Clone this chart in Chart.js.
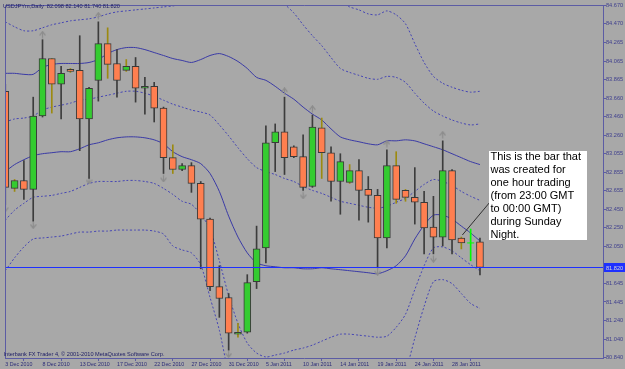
<!DOCTYPE html>
<html>
<head>
<meta charset="utf-8">
<script src="https://cdn.jsdelivr.net/npm/chart.js@4.4.0/dist/chart.umd.min.js"></script>
<style>
  html, body { margin: 0; padding: 0; background: #a8a8a8; }
</style>
</head>
<body>
<canvas id="chart" width="625" height="369"></canvas>
<script>
// ---------- DATA ----------
const symbol = 'USDJPYm,Daily';
const copyright = 'Interbank FX Trader 4, \u00a9 2001-2010 MetaQuotes Software Corp.';

const barDates = [
  '3 Dec 2010', '5 Dec 2010', '6 Dec 2010', '7 Dec 2010', '8 Dec 2010', '9 Dec 2010', '10 Dec 2010',
  '12 Dec 2010', '13 Dec 2010', '14 Dec 2010', '15 Dec 2010', '16 Dec 2010', '17 Dec 2010',
  '19 Dec 2010', '20 Dec 2010', '21 Dec 2010', '22 Dec 2010', '23 Dec 2010', '24 Dec 2010',
  '26 Dec 2010', '27 Dec 2010', '28 Dec 2010', '29 Dec 2010', '30 Dec 2010', '31 Dec 2010',
  '2 Jan 2011', '3 Jan 2011', '4 Jan 2011', '5 Jan 2011', '6 Jan 2011', '7 Jan 2011',
  '9 Jan 2011', '10 Jan 2011', '11 Jan 2011', '12 Jan 2011', '13 Jan 2011', '14 Jan 2011',
  '16 Jan 2011', '17 Jan 2011', '18 Jan 2011', '19 Jan 2011', '20 Jan 2011', '21 Jan 2011',
  '23 Jan 2011', '24 Jan 2011', '25 Jan 2011', '26 Jan 2011', '27 Jan 2011', '28 Jan 2011',
  '30 Jan 2011', '31 Jan 2011', '1 Feb 2011'
];
const dateTickBars = [0, 4, 8, 12, 16, 20, 24, 28, 32, 36, 40, 44, 48];

const opens = [
  83.736, 82.680, 82.766, 82.669, 83.467, 84.092, 83.812, 83.974, 83.963, 83.435,
  83.855, 84.254, 84.038, 83.963, 84.006, 83.769, 83.790, 83.553, 83.014, 82.885,
  82.928, 82.734, 82.346, 81.612, 81.494, 81.095, 81.116, 81.666, 82.033, 83.176,
  83.294, 83.133, 83.025, 82.701, 83.338, 83.068, 82.755, 82.745, 82.874, 82.669,
  82.604, 82.141, 82.928, 82.658, 82.583, 82.529, 82.259, 82.151, 82.874, 82.141,
  82.087, 82.098
];
const highs = [
  83.812, 82.777, 82.982, 83.672, 84.297, 84.092, 84.006, 83.984, 84.340, 83.780,
  84.491, 84.426, 84.189, 84.081, 84.103, 83.887, 83.833, 83.564, 83.154, 82.949,
  82.960, 82.755, 82.356, 81.839, 81.537, 81.213, 81.742, 82.270, 83.359, 83.381,
  83.672, 83.143, 83.262, 83.478, 83.445, 83.133, 83.057, 82.939, 82.992, 82.809,
  82.669, 83.100, 83.079, 82.669, 82.906, 82.647, 82.594, 83.197, 82.885, 82.151,
  82.238, 82.140
];
const lows = [
  82.507, 82.647, 82.561, 82.324, 83.456, 83.499, 83.435, 83.941, 83.090, 82.788,
  83.629, 83.877, 83.672, 83.952, 83.618, 83.488, 83.402, 82.842, 82.842, 82.874,
  82.637, 81.806, 81.569, 81.278, 80.922, 81.062, 81.106, 81.591, 81.871, 82.863,
  82.831, 83.014, 82.658, 82.691, 82.788, 82.540, 82.399, 82.734, 82.335, 82.313,
  81.817, 82.033, 82.518, 82.540, 82.292, 81.968, 81.968, 82.054, 81.968, 82.022,
  81.893, 81.740
];
const closes = [
  82.691, 82.766, 82.669, 83.467, 84.092, 83.812, 83.931, 83.952, 83.435, 83.769,
  84.254, 84.028, 83.855, 84.006, 83.769, 83.790, 83.553, 83.014, 82.885, 82.928,
  82.734, 82.346, 81.612, 81.483, 81.106, 81.116, 81.656, 82.022, 83.176, 83.294,
  83.014, 83.025, 82.691, 83.348, 83.068, 82.755, 82.971, 82.874, 82.658, 82.604,
  82.141, 82.928, 82.561, 82.583, 82.529, 82.249, 82.151, 82.874, 82.119, 82.087,
  82.087, 81.820
];

// bollinger style bands: middle, +-1, +-2, +-3
const bandMid = [
  83.402, 83.435, 83.445, 83.467, 83.532, 83.564, 83.585, 83.607, 83.639, 83.650,
  83.672, 83.693, 83.715, 83.736, 83.736, 83.715, 83.682, 83.639, 83.596, 83.564,
  83.532, 83.510, 83.478, 83.370, 83.251, 83.122, 83.003, 82.906, 82.863, 82.831,
  82.788, 82.755, 82.701, 82.658, 82.626, 82.583, 82.540, 82.518, 82.496, 82.475,
  82.464, 82.486, 82.529, 82.572, 82.647, 82.723, 82.777, 82.755, 82.712, 82.647,
  82.594, 82.550
];
const bandUp1 = [
  83.931, 83.931, 83.920, 83.920, 83.995, 84.028, 84.038, 84.038, 84.038, 84.049,
  84.081, 84.146, 84.189, 84.211, 84.211, 84.189, 84.157, 84.125, 84.092, 84.071,
  84.049, 84.081, 84.125, 84.146, 84.114, 84.060, 83.984, 83.887, 83.855, 83.790,
  83.715, 83.650, 83.564, 83.488, 83.424, 83.327, 83.240, 83.208, 83.187, 83.165,
  83.154, 83.197, 83.197, 83.208, 83.197, 83.165, 83.133, 83.100, 83.057, 83.014,
  82.971, 82.939
];
const bandLow1 = [
  82.863, 82.939, 82.992, 83.036, 83.057, 83.068, 83.079, 83.079, 83.111, 83.154,
  83.176, 83.208, 83.230, 83.240, 83.240, 83.230, 83.208, 83.165, 83.079, 83.025,
  82.992, 82.949, 82.842, 82.647, 82.378, 82.151, 81.979, 81.871, 81.839, 81.828,
  81.817, 81.817, 81.806, 81.806, 81.817, 81.806, 81.796, 81.785, 81.774, 81.763,
  81.752, 81.785, 81.839, 81.947, 82.130, 82.281, 82.389, 82.389, 82.346, 82.270,
  82.195, 82.108
];
const bandUp2 = [
  84.491, 84.437, 84.394, 84.394, 84.426, 84.459, 84.480, 84.502, 84.513, 84.524,
  84.545, 84.577, 84.599, 84.610, 84.621, 84.631, 84.642, 84.653, 84.664, 84.674,
  84.674, 84.685, 84.739, 84.869, 84.987, 85.030, 85.009, 84.922, 84.879, 84.793,
  84.685, 84.588, 84.459, 84.340, 84.232, 84.103, 83.984, 83.941, 83.909, 83.877,
  83.866, 83.898, 83.887, 83.833, 83.715, 83.607, 83.521, 83.467, 83.424, 83.391,
  83.370, 83.381
];
const bandLow2 = [
  82.335, 82.443, 82.518, 82.583, 82.594, 82.604, 82.626, 82.647, 82.691, 82.734,
  82.755, 82.755, 82.755, 82.766, 82.766, 82.755, 82.734, 82.680, 82.615, 82.540,
  82.507, 82.399, 82.238, 81.893, 81.515, 81.213, 80.998, 80.890, 80.847, 80.868,
  80.890, 80.922, 80.944, 80.976, 81.019, 81.062, 81.095, 81.095, 81.084, 81.073,
  81.062, 81.073, 81.170, 81.311, 81.580, 81.839, 82.033, 82.044, 82.001, 81.925,
  81.850, 81.785
];
const bandUp3 = [
  84.998, 84.922, 84.836, 84.793, 84.933, 84.998, 85.020, 85.041, 85.030, 84.987,
  85.030, 85.095, 85.149, 85.192, 85.192, 85.149, 85.106, 85.073, 85.117, 85.127,
  85.117, 85.203, 85.397, 85.613, 85.850, 85.979, 86.011, 85.925, 85.882, 85.774,
  85.634, 85.505, 85.332, 85.181, 85.030, 84.858, 84.707, 84.653, 84.621, 84.577,
  84.567, 84.610, 84.567, 84.470, 84.254, 84.049, 83.898, 83.823, 83.780, 83.747,
  83.726, 83.736
];
const bandLow3 = [
  81.785, 81.925, 82.044, 82.130, 82.141, 82.151, 82.162, 82.184, 82.205, 82.205,
  82.216, 82.216, 82.227, 82.227, 82.227, 82.227, 82.216, 82.184, 82.054, 82.011,
  81.979, 81.850, 81.494, 81.138, 80.653, 80.265, 79.995, 79.887, 79.844, 79.887,
  79.941, 80.006, 80.071, 80.135, 80.222, 80.308, 80.372, 80.383, 80.383, 80.372,
  80.362, 80.372, 80.491, 80.685, 81.052, 81.397, 81.666, 81.688, 81.645, 81.537,
  81.429, 81.375
];

// fractal arrows
const fractalUpBars = [4, 10, 30, 33, 41, 47];
const fractalUpPrices = [84.351, 84.556, 83.736, 83.542, 83.165, 83.262];
const fractalDownBars = [0, 3, 9, 17, 24, 32, 40, 46];
const fractalDownPrices = [82.464, 82.281, 82.766, 82.788, 80.879, 82.604, 81.774, 81.914];

const priceTicks = [
  84.670, 84.470, 84.265, 84.065, 83.865, 83.660, 83.460, 83.260, 83.055, 82.855,
  82.655, 82.450, 82.250, 82.050, 81.645, 81.445, 81.240, 81.040, 80.840
];
const lastPrice = 81.820;

const noteLines = ['This is the bar that', 'was created for', 'one hour trading',
  '(from 23:00 GMT', 'to 00:00 GMT)', 'during Sunday', 'Night.'];
const noteBar = 49;
const notePointPrice = 82.173;

// bars drawn with an olive wick in the screenshot
const oliveWickBars = [1, 5, 7, 11, 13, 18, 25, 34, 37, 42, 43, 49];

// ---------- STYLE ----------
const bgColor = '#a8a8a8';
const frameColor = '#5c5ca4';
const bullColor = '#34cc30';
const bearColor = '#ff7f50';
const dojiColor = '#00ff00';
const solidBand = '#3a3aa6';
const dotBand = '#4646b4';
const bidColor = '#1e30ff';

const idx = barDates.map((_, i) => i);
const isDoji = i => opens[i] === closes[i];
const pts = arr => arr.map((v, i) => ({ x: i, y: v }));

function arrowGlyph(up) {
  const c = document.createElement('canvas');
  c.width = 7; c.height = 8;
  const g = c.getContext('2d');
  g.strokeStyle = '#8c8c8c';
  g.lineWidth = 1.2;
  g.beginPath();
  if (up) {
    g.moveTo(0.6, 4.6); g.lineTo(3.5, 0.8); g.lineTo(6.4, 4.6);
    g.moveTo(3.5, 1.4); g.lineTo(3.5, 7.6);
  } else {
    g.moveTo(0.6, 3.4); g.lineTo(3.5, 7.2); g.lineTo(6.4, 3.4);
    g.moveTo(3.5, 6.6); g.lineTo(3.5, 0.4);
  }
  g.stroke();
  return c;
}

const bandLine = (data, dotted) => ({
  type: 'line',
  data: pts(data),
  borderColor: dotted ? dotBand : solidBand,
  borderWidth: 1,
  borderDash: dotted ? [2, 2] : [],
  pointRadius: 0,
  tension: 0.25,
  order: 4
});

const mtExtras = {
  id: 'mtExtras',
  beforeDraw(chart) {
    const { ctx, width, height } = chart;
    ctx.save();
    ctx.fillStyle = bgColor;
    ctx.fillRect(0, 0, width, height);
    ctx.restore();
  },
  afterDatasetsDraw(chart) {
    // bid line, snapped to a whole pixel row
    const { ctx, chartArea: a, scales: { y } } = chart;
    const py = Math.round(y.getPixelForValue(lastPrice)) + 0.5;
    ctx.save();
    ctx.strokeStyle = bidColor;
    ctx.lineWidth = 1;
    ctx.beginPath();
    ctx.moveTo(a.left, py);
    ctx.lineTo(a.right, py);
    ctx.stroke();
    ctx.restore();
  },
  afterDraw(chart) {
    const { ctx, chartArea: a, scales: { x, y }, width } = chart;
    ctx.save();

    // frame left + top
    ctx.strokeStyle = frameColor;
    ctx.lineWidth = 1;
    ctx.beginPath();
    ctx.moveTo(a.left + 0.5, a.bottom);
    ctx.lineTo(a.left + 0.5, a.top + 0.5);
    ctx.lineTo(a.right, a.top + 0.5);
    ctx.stroke();

    // title + copyright
    const last = opens.length - 1;
    ctx.font = '5.6px "Liberation Sans", Arial, sans-serif';
    ctx.fillStyle = '#1c1c64';
    ctx.textBaseline = 'middle';
    ctx.textAlign = 'left';
    ctx.fillText(`${symbol}  ${opens[last].toFixed(3)} ${highs[last].toFixed(3)} ${lows[last].toFixed(3)} ${closes[last].toFixed(3)}`, 3, 6.5);
    ctx.fillText(copyright, 3.5, 354);

    // current price label on the price scale
    const py = Math.round(y.getPixelForValue(lastPrice)) + 0.5;
    ctx.fillStyle = bidColor;
    ctx.fillRect(a.right + 1, py - 4.5, width - a.right - 1, 9);
    ctx.fillStyle = '#d8d8d8';
    ctx.font = '5.6px "Liberation Sans", Arial, sans-serif';
    ctx.fillText(lastPrice.toFixed(3), a.right + 3, py + 0.5);

    // note box
    const bx = 489, by = 151, bw = 98, bh = 89;
    ctx.strokeStyle = '#303030';
    ctx.lineWidth = 1;
    ctx.beginPath();
    ctx.moveTo(x.getPixelForValue(noteBar) + 1, y.getPixelForValue(notePointPrice));
    ctx.lineTo(bx + 1, 202);
    ctx.stroke();
    ctx.fillStyle = '#ffffff';
    ctx.fillRect(bx, by, bw, bh);
    ctx.fillStyle = '#000000';
    ctx.font = '11px "Liberation Sans", Arial, sans-serif';
    noteLines.forEach((t, k) => ctx.fillText(t, bx + 1.5, 157 + k * 13.05));

    ctx.restore();
  }
};

new Chart(document.getElementById('chart'), {
  type: 'bar',
  data: {
    datasets: [
      {
        // candle bodies
        data: idx.map(i => ({ x: i, y: isDoji(i) ? null : [opens[i], closes[i]] })),
        backgroundColor: idx.map(i => closes[i] > opens[i] ? bullColor : bearColor),
        borderColor: '#3a3a3a',
        borderWidth: 1,
        borderSkipped: false,
        barThickness: 7,
        grouped: false,
        order: 0
      },
      {
        // doji tick
        type: 'scatter',
        data: idx.filter(isDoji).map(i => ({ x: i, y: opens[i] })),
        pointStyle: 'line',
        pointRadius: 3.5,
        borderColor: dojiColor,
        borderWidth: 1,
        order: 0
      },
      {
        // wicks
        data: idx.map(i => ({ x: i, y: [lows[i], highs[i]] })),
        backgroundColor: idx.map(i => isDoji(i) ? dojiColor : (oliveWickBars.includes(i) ? '#9c8a10' : '#3c3c3c')),
        borderWidth: 0,
        barThickness: 1,
        grouped: false,
        order: 1
      },
      {
        type: 'scatter',
        data: fractalUpBars.map((b, k) => ({ x: b, y: fractalUpPrices[k] })),
        pointStyle: arrowGlyph(true),
        order: 2
      },
      {
        type: 'scatter',
        data: fractalDownBars.map((b, k) => ({ x: b, y: fractalDownPrices[k] })),
        pointStyle: arrowGlyph(false),
        order: 2
      },
      bandLine(bandUp3, true),
      bandLine(bandUp2, true),
      bandLine(bandUp1, false),
      bandLine(bandMid, true),
      bandLine(bandLow1, false),
      bandLine(bandLow2, true),
      bandLine(bandLow3, true)
    ]
  },
  options: {
    responsive: false,
    animation: false,
    events: [],
    layout: { padding: { left: 2, top: 2, right: 0, bottom: 0 } },
    plugins: { legend: { display: false }, tooltip: { enabled: false } },
    scales: {
      x: {
        type: 'linear',
        min: -0.03,
        max: 64.22,
        offset: false,
        afterBuildTicks: s => { s.ticks = dateTickBars.map(v => ({ value: v })); },
        afterFit: s => { s.height = 11; },
        ticks: {
          autoSkip: false,
          minRotation: 0,
          maxRotation: 0,
          align: 'start',
          padding: 0,
          color: '#2c2c78',
          font: { size: 5.3, family: '"Liberation Sans", Arial, sans-serif' },
          callback: v => barDates[v] ?? ''
        },
        grid: { drawOnChartArea: false, tickLength: 3, color: frameColor },
        border: { color: frameColor }
      },
      y: {
        position: 'right',
        min: 80.836,
        max: 84.674,
        afterBuildTicks: s => { s.ticks = priceTicks.map(v => ({ value: v })); },
        afterFit: s => { s.width = 22; },
        ticks: {
          autoSkip: false,
          padding: 0,
          color: '#40408e',
          font: { size: 5.6, family: '"Liberation Sans", Arial, sans-serif' },
          callback: v => Number(v).toFixed(3)
        },
        grid: { drawOnChartArea: false, tickLength: 3, color: frameColor },
        border: { color: frameColor }
      }
    }
  },
  plugins: [mtExtras]
});
</script>
</body>
</html>
